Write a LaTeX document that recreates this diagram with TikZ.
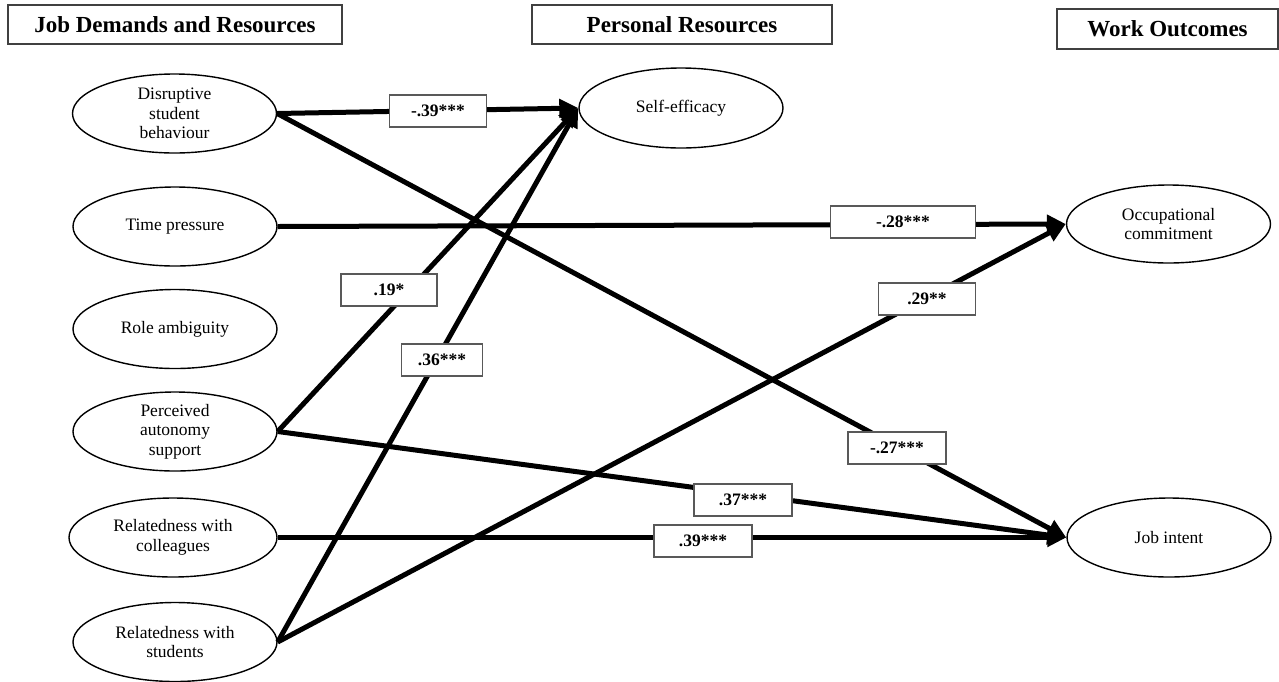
\documentclass[tikz,border=0pt]{standalone}
\usepackage{fontspec}
\setmainfont{Liberation Serif}
\usepackage{tikz}
\usetikzlibrary{positioning,arrows.meta,shapes.geometric}

\begin{document}
\begin{tikzpicture}[x=1pt,y=-1pt,
  head/.style={draw=black!75,line width=1.4pt,minimum height=39pt,inner sep=0pt,font=\fontsize{23}{26}\selectfont\bfseries},
  latent/.style={draw,ellipse,line width=1.4pt,minimum width=204pt,minimum height=79pt,inner sep=0pt,align=center,font=\fontsize{17.5}{19.5}\selectfont},
  coef/.style={draw=black!65,fill=white,line width=1.2pt,minimum height=32pt,inner sep=0pt,font=\fontsize{17.5}{20}\selectfont\bfseries},
  effect/.style={line width=5pt,-{Triangle[length=19pt,width=18pt]}}]
  \useasboundingbox (0,0) rectangle (1279,681);
  % column headings
  \node[head,minimum width=334pt] (jdr) at (175,24.5) {Job Demands and Resources};
  \node[head,minimum width=300pt] (pr) at (682,24.5) {Personal Resources};
  \node[head,minimum width=221pt,minimum height=40pt] (wo) at (1167.5,29) {Work Outcomes};
  % demands and resources
  \node[latent] (dsb) at (174.5,113.5) {Disruptive\\student\\behaviour};
  \node[latent] (tp) at (175,226.5) {Time pressure};
  \node[latent] (ra) at (175,329) {Role ambiguity};
  \node[latent] (pas) at (175,431.5) {Perceived\\autonomy\\support};
  \node[latent,minimum width=208pt] (rwc) at (173,537.5) {Relatedness with\\colleagues};
  \node[latent] (rws) at (175,642) {Relatedness with\\students};
  % personal resources and outcomes
  \node[latent,minimum height=80pt] (se) at (681,108) {Self-efficacy};
  \node[latent,minimum height=78pt] (oc) at (1168.5,224) {Occupational\\commitment};
  \node[latent] (ji) at (1169,537.5) {Job intent};
  % paths
  \draw[effect] (dsb.east) -- (se.west);
  \draw[effect] (dsb.east) -- (ji.west);
  \draw[effect] (tp.east) -- (oc.west);
  \draw[effect] (pas.east) -- (se.west);
  \draw[effect] (pas.east) -- (ji.west);
  \draw[effect] (rwc.east) -- (ji.west);
  \draw[effect] (rws.east) -- (se.west);
  \draw[effect] (rws.east) -- (oc.west);
  % coefficients
  \node[coef,minimum width=97pt] (c1) at (438,111) {-.39***};
  \node[coef,minimum width=145pt] (c2) at (903,222) {-.28***};
  \node[coef,minimum width=96pt] (c3) at (389,290) {.19*};
  \node[coef,minimum width=81pt] (c4) at (442,360) {.36***};
  \node[coef,minimum width=97pt] (c5) at (927,299) {.29**};
  \node[coef,minimum width=98pt] (c6) at (897,448) {-.27***};
  \node[coef,minimum width=98pt] (c7) at (743,500) {.37***};
  \node[coef,minimum width=98pt] (c8) at (703,541) {.39***};
\end{tikzpicture}
\end{document}
